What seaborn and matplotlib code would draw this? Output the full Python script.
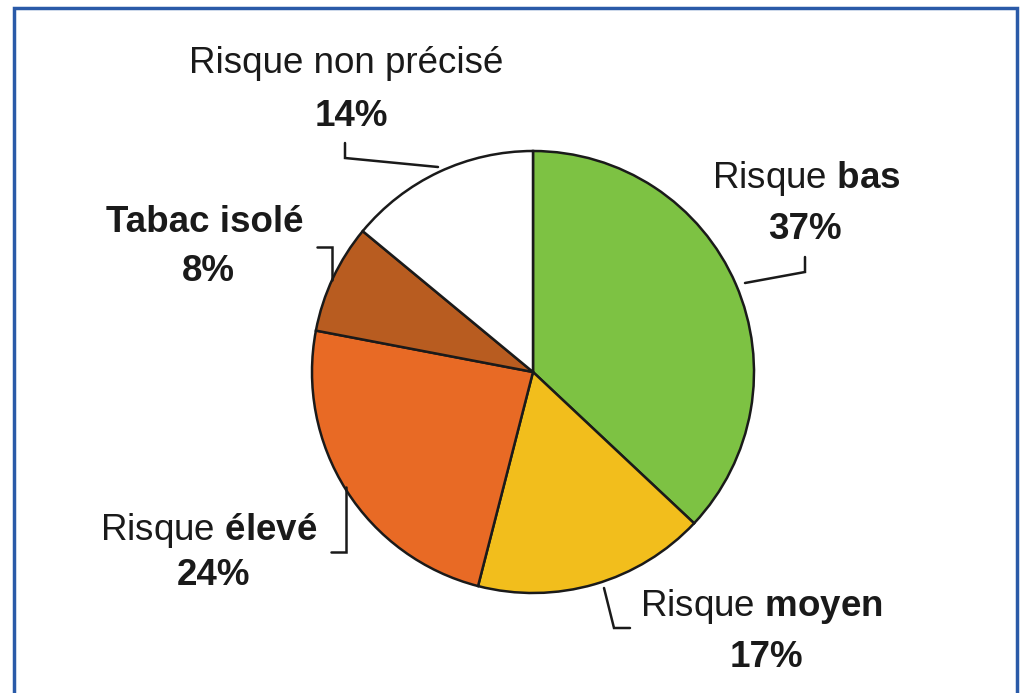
import matplotlib
matplotlib.use("Agg")
import matplotlib.pyplot as plt
import seaborn as sns
from matplotlib.patches import Rectangle

# ---- data ----
categories = ["Risque bas", "Risque moyen", "Risque élevé", "Tabac isolé", "Risque non précisé"]
values = [37, 17, 24, 8, 14]
label_line1 = [r"Risque $\mathbf{bas}$", r"Risque $\mathbf{moyen}$", r"Risque $\mathbf{élevé}$",
               "Tabac isolé", "Risque non précisé"]
label_line1_bold = [False, False, False, True, False]
colors = ["#7dc243", "#f2be1c", "#e86a25", "#b85c20", "#ffffff"]

sns.set_theme(style="white")
plt.rcParams["font.family"] = ["Liberation Sans", "DejaVu Sans"]
plt.rcParams["mathtext.fontset"] = "custom"
plt.rcParams["mathtext.rm"] = "Liberation Sans"
plt.rcParams["mathtext.bf"] = "Liberation Sans:bold"

W, H = 1021, 693
fig = plt.figure(figsize=(W / 100, H / 100), dpi=100)
fig.patch.set_facecolor("white")
ax = fig.add_axes([0, 0, 1, 1])

def Y(y):
    return H - y

# pie
ax.pie(values, colors=colors, startangle=90, counterclock=False,
       center=(533, Y(372)), radius=221,
       wedgeprops=dict(edgecolor="#1a1a1a", linewidth=1.8), frame=False)
ax.set_xlim(0, W)
ax.set_ylim(0, H)
ax.set_aspect("equal")
ax.axis("off")

# label layout (line1 center x, baseline y ; line2 center x, baseline y)
layout = [
    (806, 188, 805, 239),
    (761, 616, 766, 667),
    (209, 540, 213, 585),
    (205, 232, 208, 281),
    (346, 73, 351, 126),
]
fs = 26.5
for i, (x1, y1, x2, y2) in enumerate(layout):
    ax.text(x1, Y(y1), label_line1[i], ha="center", va="baseline", fontsize=fs,
            fontweight="bold" if label_line1_bold[i] else "normal", color="#1a1a1a")
    ax.text(x2, Y(y2), f"{values[i]}%", ha="center", va="baseline", fontsize=fs,
            fontweight="bold", color="#1a1a1a")

# leader lines
leaders = [
    [(745, 283), (805, 272), (805, 257)],
    [(604, 588), (614, 628), (630, 628)],
    [(346, 487), (346, 552), (331, 552)],
    [(317, 247), (332, 247), (332, 280)],
    [(345, 143), (345, 158), (438, 167)],
]
for pts in leaders:
    ax.plot([p[0] for p in pts], [Y(p[1]) for p in pts], color="#1a1a1a", lw=1.8,
            solid_joinstyle="miter")

# blue frame
fig.patches.append(Rectangle((14 / W, -0.05), (1017 - 14) / W, (H - 8) / H + 0.05,
                             transform=fig.transFigure, fill=False,
                             edgecolor="#2a5aa8", linewidth=2.5))

fig.savefig("out.png", dpi=100, facecolor="white")
